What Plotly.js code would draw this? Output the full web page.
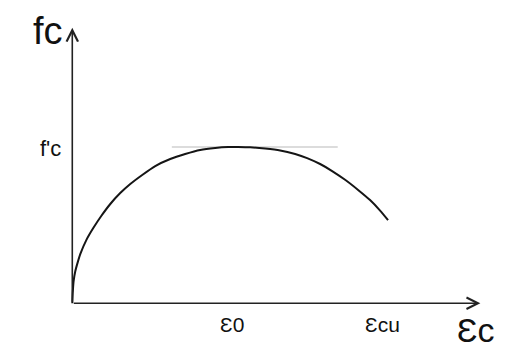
<!DOCTYPE html>
<html>
<head>
<meta charset="utf-8">
<script src="https://cdn.plot.ly/plotly-3.0.1.min.js"></script>
<style>
  html, body { margin: 0; padding: 0; background: #ffffff; }
  #chart { width: 526px; height: 349px; }
</style>
</head>
<body>
<div id="chart"></div>
<script>
// Concrete compressive stress-strain curve
// strain in per-mille (x 1e-3), stress normalised by f'c
const strain = [0, 0.006, 0.016, 0.036, 0.066, 0.096, 0.169, 0.253, 0.349, 0.458,
                0.578, 0.699, 0.843, 1.000, 1.181, 1.361, 1.542, 1.723, 1.880, 2.000,
                2.145, 2.325, 2.506, 2.687, 2.831, 2.988, 3.133, 3.289, 3.446, 3.590,
                3.711, 3.807];
const stress = [0, 0.071, 0.141, 0.205, 0.263, 0.314, 0.404, 0.481, 0.558, 0.635,
                0.705, 0.763, 0.821, 0.878, 0.923, 0.955, 0.981, 0.994, 1.000, 1.000,
                0.998, 0.990, 0.978, 0.955, 0.929, 0.891, 0.846, 0.790, 0.725, 0.660,
                0.593, 0.532];

// Characteristic points and labels
const eps0 = 2.0;
const epsCu = 3.8;
const fcPeak = 1.0;
const xTickVals = [eps0, epsCu];
const xTickText = ['Ɛ0', 'Ɛcu'];
const yTickText = ["f'c"];
const xAxisName = 'Ɛc';
const yAxisName = 'fc';

// Faint reference line at the peak stress
const peakLineX = [1.2, 3.2];
const peakLineY = [fcPeak, fcPeak];

// Axis arrow extents
const xAxisEnd = 4.92;
const yAxisEnd = 1.763;

const font = 'Liberation Sans, Arial, sans-serif';

const traces = [
  {
    x: peakLineX, y: peakLineY, mode: 'lines', type: 'scatter',
    line: { color: '#dcdcdc', width: 2 }, hoverinfo: 'skip'
  },
  {
    x: strain, y: stress, mode: 'lines', type: 'scatter',
    line: { color: '#151515', width: 2, shape: 'spline', smoothing: 0.6 },
    hoverinfo: 'skip'
  }
];

const arrowStyle = {
  xref: 'x', yref: 'y', axref: 'x', ayref: 'y', text: '', showarrow: true,
  arrowhead: 5, arrowsize: 1.4, arrowwidth: 1.6, arrowcolor: '#222', standoff: 0
};

const annotations = [
  // axes drawn as arrows from the origin
  Object.assign({ x: xAxisEnd, y: 0, ax: 0, ay: 0 }, arrowStyle),
  Object.assign({ x: 0, y: yAxisEnd, ax: 0, ay: 0 }, arrowStyle),
  // axis names
  { x: 0, y: yAxisEnd, xref: 'x', yref: 'y', text: yAxisName, showarrow: false,
    xanchor: 'right', yanchor: 'middle', xshift: -7, yshift: -3,
    font: { family: font, size: 38, color: '#111' } },
  { x: xAxisEnd, y: 0, xref: 'x', yref: 'y', text: xAxisName, showarrow: false,
    xanchor: 'center', yanchor: 'top', xshift: -4, yshift: -6,
    font: { family: font, size: 34, color: '#111' } },
  // tick labels
  { x: 0, y: fcPeak, xref: 'x', yref: 'y', text: yTickText[0], showarrow: false,
    xanchor: 'right', yanchor: 'middle', xshift: -9, yshift: -2,
    font: { family: font, size: 22, color: '#111' } },
  { x: xTickVals[0], y: 0, xref: 'x', yref: 'y', text: xTickText[0], showarrow: false,
    xanchor: 'center', yanchor: 'top', xshift: -6, yshift: -8,
    font: { family: font, size: 21, color: '#111' } },
  { x: xTickVals[1], y: 0, xref: 'x', yref: 'y', text: xTickText[1], showarrow: false,
    xanchor: 'center', yanchor: 'top', xshift: -5, yshift: -8,
    font: { family: font, size: 21, color: '#111' } }
];

const layout = {
  width: 526, height: 349,
  margin: { l: 63.7, r: 39, t: 22.2, b: 38.2, pad: 0 },
  paper_bgcolor: '#ffffff', plot_bgcolor: '#ffffff',
  showlegend: false,
  xaxis: { range: [-0.1, 5.0], showgrid: false, zeroline: false, showline: false,
           showticklabels: false, ticks: '' },
  yaxis: { range: [-0.05, 1.8], showgrid: false, zeroline: false, showline: false,
           showticklabels: false, ticks: '' },
  annotations: annotations
};

Plotly.newPlot('chart', traces, layout, { staticPlot: true, displayModeBar: false });
</script>
</body>
</html>
